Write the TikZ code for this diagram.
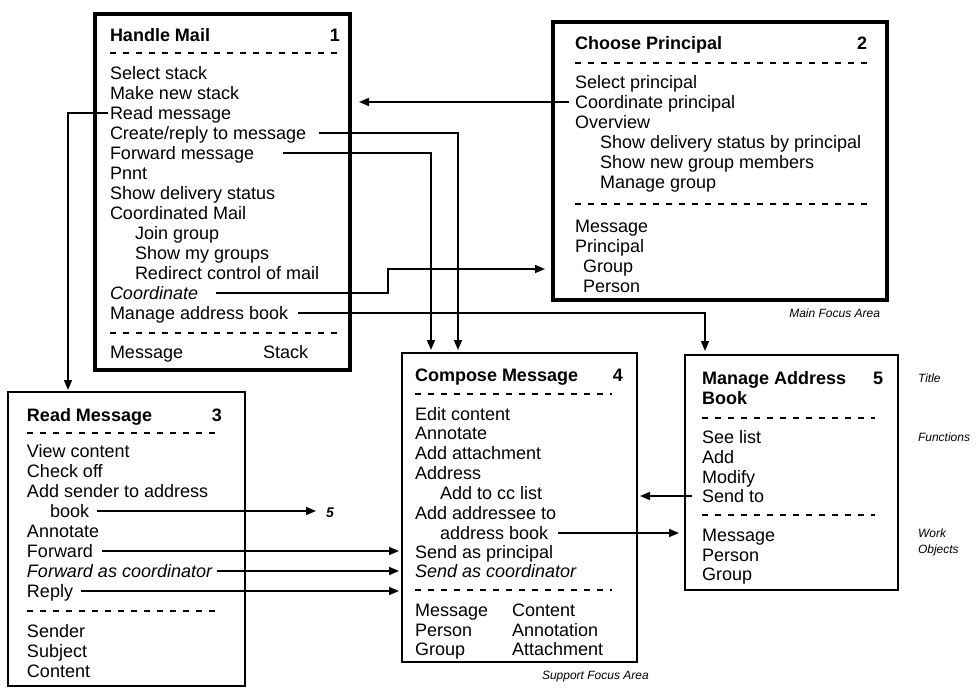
\documentclass[tikz,border=0pt]{standalone}
\usepackage{fontspec}
\setmainfont{Liberation Sans}
\usetikzlibrary{arrows.meta}
\tikzset{
  txt/.style={anchor=west, inner sep=0pt, outer sep=0pt, text height=13pt, text depth=0pt, font=\fontsize{18}{20}\selectfont},
  ttl/.style={txt, font=\fontsize{18}{20}\selectfont\bfseries},
  itx/.style={txt, font=\fontsize{18}{20}\selectfont\itshape},
  num/.style={txt, anchor=east, font=\fontsize{18}{20}\selectfont\bfseries},
  note/.style={inner sep=0pt, outer sep=0pt, text height=9pt, text depth=0pt, font=\fontsize{12}{15}\selectfont\itshape},
  sepline/.style={line width=1.6pt, dash pattern=on 6pt off 7pt},
  arr/.style={line width=1.6pt, -{Triangle[length=10pt,width=8pt]}},
  bigbox/.style={draw, line width=3.5pt, anchor=north west, inner sep=0pt, outer sep=0pt},
  smallbox/.style={draw, line width=1.1pt, anchor=north west, inner sep=0pt, outer sep=0pt}
}
\begin{document}
\begin{tikzpicture}[x=1pt,y=-1pt]
\useasboundingbox (0,0) rectangle (976,688);
% boxes
\node[bigbox, minimum width=255pt, minimum height=356pt] (b1) at (95,14) {};
\node[bigbox, minimum width=334pt, minimum height=278pt] (b2) at (553,22) {};
\node[smallbox, minimum width=237pt, minimum height=294pt] (b3) at (8,392) {};
\node[smallbox, minimum width=235pt, minimum height=309pt] (b4) at (402,353) {};
\node[smallbox, minimum width=213pt, minimum height=235pt] (b5) at (685,355) {};

% box 1
\node[ttl] (a0) at (110,35) {Handle Mail};
\node[num] (a0n) at (340,35) {1};
\draw[sepline] (110,53) -- (340,53);
\node[txt] (a1) at (110,73) {Select stack};
\node[txt] (a2) at (110,93) {Make new stack};
\node[txt] (rm) at (110,113) {Read message};
\node[txt] (cr) at (110,133) {Create/reply to message};
\node[txt] (fm) at (110,153) {Forward message};
\node[txt] (a6) at (110,173) {Pnnt};
\node[txt] (a7) at (110,193) {Show delivery status};
\node[txt] (a8) at (110,213) {Coordinated Mail};
\node[txt] (a9) at (135,233) {Join group};
\node[txt] (a10) at (135,253) {Show my groups};
\node[txt] (a11) at (135,273) {Redirect control of mail};
\node[itx] (co) at (110,293) {Coordinate};
\node[txt] (mab) at (110,313) {Manage address book};
\draw[sepline] (110,333) -- (340,333);
\node[txt] (a14) at (110,352) {Message};
\node[txt] (a15) at (263,352) {Stack};

% box 2
\node[ttl] (c0) at (575,43) {Choose Principal};
\node[num] (c0n) at (867,43) {2};
\draw[sepline] (575,63) -- (867,63);
\node[txt] (c1) at (575,82) {Select principal};
\node[txt] (cp) at (575,102) {Coordinate principal};
\node[txt] (c3) at (575,122) {Overview};
\node[txt] (c4) at (600,142) {Show delivery status by principal};
\node[txt] (c5) at (600,162) {Show new group members};
\node[txt] (c6) at (600,182) {Manage group};
\draw[sepline] (575,204) -- (867,204);
\node[txt] (c7) at (575,226) {Message};
\node[txt] (c8) at (575,246) {Principal};
\node[txt] (c9) at (583,266) {Group};
\node[txt] (c10) at (583,286) {Person};

% box 3
\node[ttl] (r0) at (27,415) {Read Message};
\node[num] (r0n) at (222,415) {3};
\draw[sepline] (27,433) -- (222,433);
\node[txt] (r1) at (27,451) {View content};
\node[txt] (r2) at (27,471) {Check off};
\node[txt] (r3) at (27,491) {Add sender to address};
\node[txt] (bk) at (50,511) {book};
\node[txt] (r5) at (27,531) {Annotate};
\node[txt] (fw) at (27,551) {Forward};
\node[itx] (fc) at (27,571) {Forward as coordinator};
\node[txt] (rp) at (27,591) {Reply};
\draw[sepline] (27,611) -- (222,611);
\node[txt] (r9) at (27,631) {Sender};
\node[txt] (r10) at (27,651) {Subject};
\node[txt] (r11) at (27,671) {Content};
\node[txt, font=\fontsize{14}{16}\selectfont\bfseries\itshape] (f5) at (326,511) {5};

% box 4
\node[ttl] (m0) at (415,375) {Compose Message};
\node[num] (m0n) at (623,375) {4};
\draw[sepline] (415,394) -- (612,394);
\node[txt] (m1) at (415,414) {Edit content};
\node[txt] (m2) at (415,433) {Annotate};
\node[txt] (m3) at (415,453) {Add attachment};
\node[txt] (m4) at (415,473) {Address};
\node[txt] (m5) at (440,493) {Add to cc list};
\node[txt] (m6) at (415,513) {Add addressee to};
\node[txt] (ab) at (440,533) {address book};
\node[txt] (m8) at (415,552) {Send as principal};
\node[itx] (m9) at (415,571) {Send as coordinator};
\draw[sepline] (415,590) -- (612,590);
\node[txt] (m10) at (415,610) {Message};
\node[txt] (m11) at (415,630) {Person};
\node[txt] (m12) at (415,649) {Group};
\node[txt] (m13) at (512,610) {Content};
\node[txt] (m14) at (512,630) {Annotation};
\node[txt] (m15) at (512,649) {Attachment};

% box 5
\node[ttl] (p0) at (702,378) {Manage Address};
\node[num] (p0n) at (883,378) {5};
\node[ttl] (p0b) at (702,398) {Book};
\draw[sepline] (702,418) -- (875,418);
\node[txt] (p1) at (702,437) {See list};
\node[txt] (p2) at (702,457) {Add};
\node[txt] (p3) at (702,477) {Modify};
\node[txt] (st) at (702,496) {Send to};
\draw[sepline] (702,515) -- (875,515);
\node[txt] (p5) at (702,535) {Message};
\node[txt] (p6) at (702,555) {Person};
\node[txt] (p7) at (702,574) {Group};

% notes
\node[note, anchor=east] (nmain) at (880,313) {Main Focus Area};
\node[note, anchor=west] (nsup) at (542,675) {Support Focus Area};
\node[note, anchor=west] (ntitle) at (918,378) {Title};
\node[note, anchor=west] (nfun) at (918,437) {Functions};
\node[note, anchor=west] (nwork) at (918,533) {Work};
\node[note, anchor=west] (nobj) at (918,549) {Objects};

% connectors
\coordinate (k1) at (68,113);
\coordinate (k2) at (458,0);
\coordinate (k3) at (431,0);
\coordinate (k4) at (388,269);
\coordinate (k5) at (705,0);
\draw[arr, shorten <=2pt, shorten >=2pt] (rm.west) -- (k1) -- (k1 |- b3.north);
\draw[arr, shorten >=3pt] ([xshift=13pt]cr.east) -| (k2 |- b4.north);
\draw[arr, shorten >=3pt] ([xshift=29pt]fm.east) -| (k3 |- b4.north);
\draw[arr, shorten >=9pt] ([xshift=-6pt]cp.west) -- (b1.east |- cp.west);
\draw[arr, shorten >=8pt] ([xshift=18pt]co.east) -| (k4) -- (k4 -| b2.west);
\draw[arr, shorten >=4pt] ([xshift=10pt]mab.east) -| (k5 |- b5.north);
\draw[arr, shorten >=10pt] ([xshift=8pt]bk.east) -- (f5.west);
\draw[arr, shorten >=3pt] ([xshift=9pt]fw.east) -- (b4.west |- fw.east);
\draw[arr, shorten >=3pt] ([xshift=5pt]fc.east) -- (b4.west |- fc.east);
\draw[arr, shorten >=3pt] ([xshift=8pt]rp.east) -- (b4.west |- rp.east);
\draw[arr, shorten >=3pt] ([xshift=-10pt]st.west) -- (b4.east |- st.west);
\draw[arr, shorten >=6pt] ([xshift=10pt]ab.east) -- (b5.west |- ab.east);
\end{tikzpicture}
\end{document}
